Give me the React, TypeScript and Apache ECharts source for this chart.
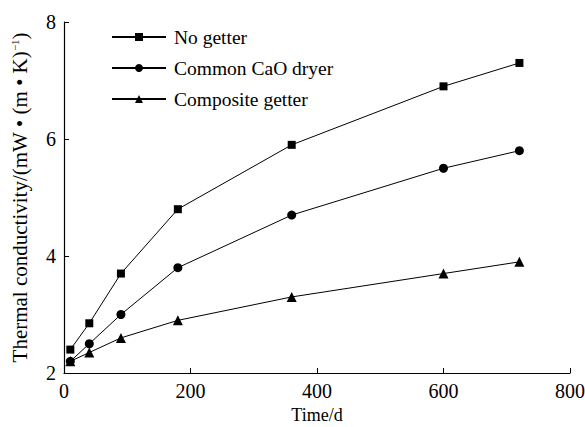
import React, { useEffect, useRef } from "react";
import * as echarts from "echarts";

const days = [10, 40, 90, 180, 360, 600, 720];
const noGetter = [2.4, 2.85, 3.7, 4.8, 5.9, 6.9, 7.3];
const commonCaO = [2.2, 2.5, 3.0, 3.8, 4.7, 5.5, 5.8];
const composite = [2.2, 2.35, 2.6, 2.9, 3.3, 3.7, 3.9];
const seriesNames = ["No getter", "Common CaO dryer", "Composite getter"];
const xTicks = [0, 200, 400, 600, 800];
const yTicks = [2, 4, 6, 8];

const FONT = "'Liberation Serif', 'Times New Roman', serif";

export default function App() {
  const ref = useRef<HTMLDivElement>(null);
  useEffect(() => {
    if (!ref.current) return;
    const chart = echarts.init(ref.current, undefined, { renderer: "svg" });
    const mk = (vals: number[]) => days.map((d, i) => [d, vals[i]]);
    const lineStyle = { color: "#000", width: 1 };
    chart.setOption({
      animation: false,
      backgroundColor: "#fff",
      textStyle: { fontFamily: FONT, color: "#000" },
      grid: { left: 64, right: 15, top: 22, bottom: 54, outerBoundsMode: "none", containLabel: false },
      legend: {
        orient: "vertical",
        left: 106,
        top: 22,
        itemWidth: 54,
        itemHeight: 10,
        itemGap: 11,
        textStyle: { fontFamily: FONT, fontSize: 19.5, color: "#000", padding: [0, 0, 0, 3] },
        data: seriesNames,
      },
      xAxis: {
        type: "value",
        min: xTicks[0],
        max: xTicks[xTicks.length - 1],
        interval: 200,
        name: "Time/d",
        nameLocation: "middle",
        nameGap: 28,
        nameTextStyle: { fontFamily: FONT, fontSize: 18, color: "#000" },
        axisLine: { lineStyle: { color: "#000", width: 1.2 } },
        axisTick: { inside: true, length: 5, lineStyle: { color: "#000" } },
        axisLabel: { fontFamily: FONT, fontSize: 20, color: "#000", margin: 8 },
        splitLine: { show: false },
      },
      yAxis: {
        type: "value",
        min: yTicks[0],
        max: yTicks[yTicks.length - 1],
        interval: 2,
        name: "{n|Thermal conductivity/(mW • (m • K)}{s|−1}{n|)}",
        nameLocation: "middle",
        nameGap: 33,
        nameRotate: 90,
        nameTextStyle: {
          fontFamily: FONT,
          fontSize: 21,
          color: "#000",
          rich: {
            n: { fontFamily: FONT, fontSize: 21, color: "#000", lineHeight: 22 },
            s: { fontFamily: FONT, fontSize: 11, color: "#000", verticalAlign: "top", lineHeight: 22 },
          },
        },
        axisLine: { show: true, lineStyle: { color: "#000", width: 1.2 } },
        axisTick: { show: true, inside: true, length: 5, lineStyle: { color: "#000" } },
        axisLabel: { fontFamily: FONT, fontSize: 20, color: "#000", margin: 8 },
        splitLine: { show: false },
      },
      series: [
        {
          name: seriesNames[0],
          type: "line",
          data: mk(noGetter),
          symbol: "rect",
          symbolSize: 8,
          itemStyle: { color: "#000" },
          lineStyle,
        },
        {
          name: seriesNames[1],
          type: "line",
          data: mk(commonCaO),
          symbol: "circle",
          symbolSize: 9,
          itemStyle: { color: "#000" },
          lineStyle,
        },
        {
          name: seriesNames[2],
          type: "line",
          data: mk(composite),
          symbol: "triangle",
          symbolSize: 10,
          itemStyle: { color: "#000" },
          lineStyle,
        },
      ],
    });
    return () => chart.dispose();
  }, []);
  return (
    <div
      ref={ref}
      style={{ position: "fixed", left: 0, top: 0, width: 585, height: 427, background: "#fff" }}
    />
  );
}
